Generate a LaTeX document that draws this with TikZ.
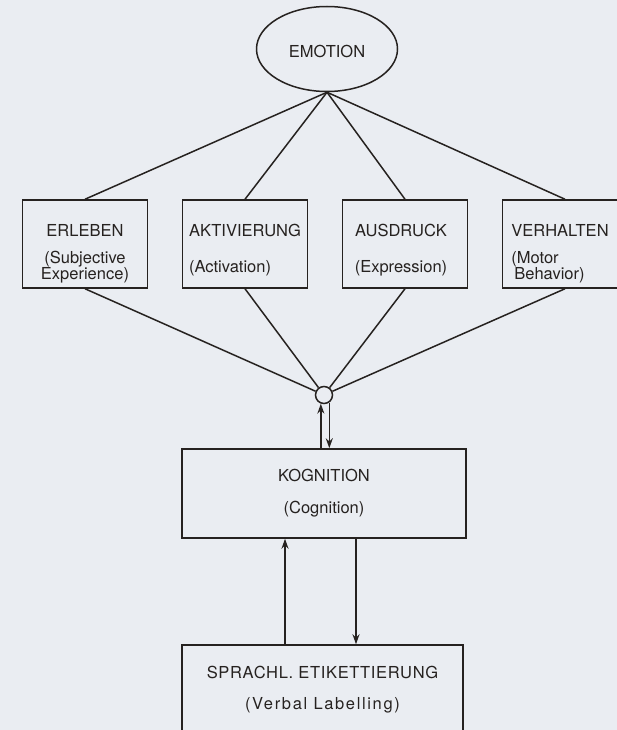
\documentclass[tikz,border=0pt]{standalone}
\usepackage{fontspec}
\setmainfont{TeX Gyre Heros}
\usepackage{tikz}
\usetikzlibrary{positioning,arrows.meta,calc,shapes.geometric}
\definecolor{paper}{RGB}{234,237,242}
\definecolor{ink}{RGB}{38,34,32}

\begin{document}
\begin{tikzpicture}[x=1pt, y=-1pt, color=ink, line width=1.5pt, node distance=160pt]
\tikzstyle{every node}=[font=\fontsize{16.5}{16}\selectfont]
\tikzstyle{box}=[draw, rectangle, minimum width=125pt, minimum height=88pt, inner sep=0pt]
\tikzstyle{caption}=[inner sep=0pt, anchor=north]
\tikzstyle{flow}=[-{Stealth[length=10pt,width=7pt]}]
\fill[paper] (0,0) rectangle (617,730);
\useasboundingbox (0,0) rectangle (617,730);

\node[ellipse, draw, minimum width=141pt, minimum height=85pt, inner sep=0pt, text height=18pt] (emotion) at (327,49) {EMOTION};

% the four components
\node[box] (erleben) at (85,244) {};
\node[box] (aktiv) [right of=erleben] {};
\node[box] (ausdruck) [right of=aktiv] {};
\node[box] (verhalten) [right of=ausdruck] {};

\node[caption, align=center] (erleben-t) [below=24pt of erleben.north] {ERLEBEN\\[11pt](Subjective\\Experience)};
\node[caption, align=left] (aktiv-t) [below=24pt of aktiv.north] {AKTIVIERUNG\\[20pt](Activation)};
\node[caption, align=center] (ausdruck-t) [below=24pt of ausdruck.north, xshift=-4pt] {AUSDRUCK\\[20pt](Expression)};
\node[caption, align=left] (verhalten-t) [below=24pt of verhalten.north, xshift=-5pt] {VERHALTEN\\[11pt](Motor\\\hspace*{3pt}Behavior)};

\node[circle, draw, minimum size=17pt, inner sep=0pt] (hub) at (324,395) {};

\node[box, minimum width=284pt, minimum height=89pt, align=center] (kognition) [below of=hub, node distance=98.5pt] {KOGNITION\\[16pt](Cognition)};
\node[box, minimum width=281pt, minimum height=89pt, align=center] (sprachl) [below of=kognition, node distance=196pt, xshift=-1.5pt]
  {{\addfontfeatures{LetterSpace=4}SPRACHL. ETIKETTIERUNG}\\[15pt]{\addfontfeatures{LetterSpace=10}(Verbal Labelling)}};

\path (emotion.south) edge (erleben.north)
                      edge (aktiv.north)
                      edge (ausdruck.north)
                      edge (verhalten.north);
\path (erleben.south) edge (hub);
\path (aktiv.south) edge (hub);
\path (ausdruck.south) edge (hub);
\path (verhalten.south) edge (hub);

\draw[flow] (kognition.north -| hub.250) -- (hub.250);
\draw[flow] (hub.305) -- (hub.305 |- kognition.north);

\coordinate (up) at ($(kognition.south)+(-39,0)$);
\coordinate (down) at ($(kognition.south)+(32,0)$);
\draw[flow] (up |- sprachl.north) -- (up);
\draw[flow] (down) -- (down |- sprachl.north);
\end{tikzpicture}
\end{document}
